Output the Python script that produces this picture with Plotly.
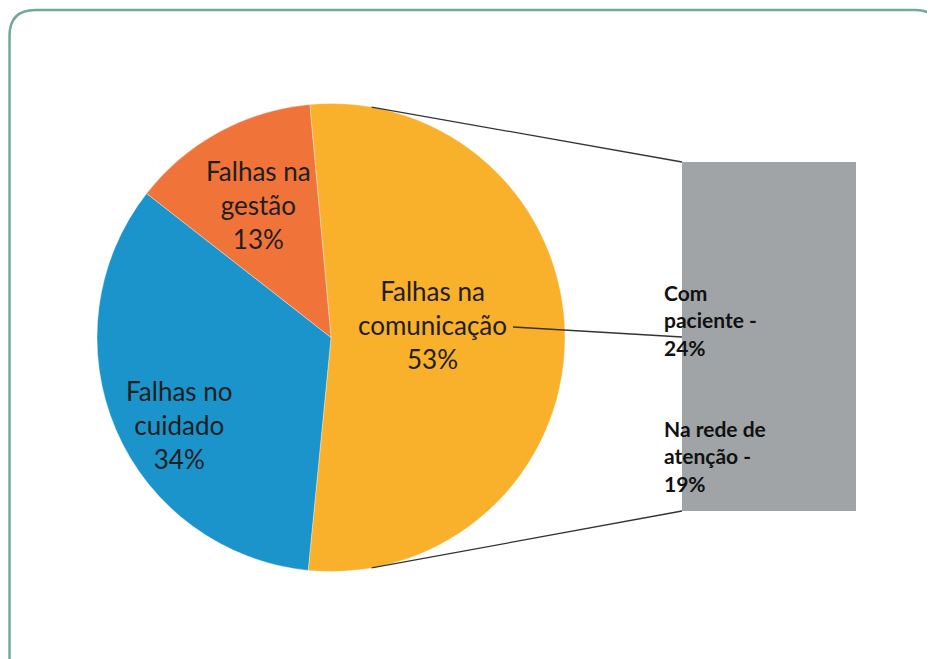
import math
import plotly.graph_objects as go

OFF = 8  # page body margin that the browser adds around the figure
W, H = 935 - OFF, 659 - OFF

# data
pie_labels = ["Falhas na<br>comunicação", "Falhas no<br>cuidado", "Falhas na<br>gestão"]
pie_values = [53, 34, 13]
pie_colors = ["#F9B02A", "#1A94CA", "#F0733A"]

bar_labels = ["Na rede de<br>atenção", "Com<br>paciente"]
bar_values = [19, 24]
bar_color = "#A0A4A6"


def px(x):
    return (x - OFF) / W


def py(y):
    return 1 - (y - OFF) / H


# pie geometry (window pixels)
cx, cy, R = 331, 337.5, 234
rotation = -5.2

fig = go.Figure()
fig.add_trace(go.Pie(
    labels=pie_labels,
    values=pie_values,
    sort=False,
    direction='clockwise',
    rotation=rotation,
    marker=dict(colors=pie_colors, line=dict(color='rgba(255,255,255,0.6)', width=0.6)),
    textinfo='none',
    hoverinfo='label+percent',
    showlegend=False,
    domain=dict(x=[px(cx - R), px(cx + R)], y=[py(cy + R), py(cy - R)]),
))

# bar of the split slice
bx0, bx1, by0, by1 = 682, 856, 162, 511
for lab, val in zip(bar_labels, bar_values):
    fig.add_trace(go.Bar(
        x=[0], y=[val], width=1,
        marker=dict(color=bar_color, line=dict(width=0)),
        name=lab.replace('<br>', ' '),
        showlegend=False,
        xaxis='x', yaxis='y',
    ))

# pie label centres (pixels)
label_pos = [(432, 325), (179, 425), (258, 205)]
annotations = []
for lab, val, (x, y) in zip(pie_labels, pie_values, label_pos):
    annotations.append(dict(
        x=px(x), y=py(y), xref='paper', yref='paper',
        text=f"{lab}<br>{val}%", showarrow=False,
        font=dict(family='Lato', size=26, color='#1e1e1e'),
        align='center', xanchor='center', yanchor='middle',
    ))

# bar labels
bar_text_y = [456, 320]
for lab, val, ty in zip(bar_labels, bar_values, bar_text_y):
    annotations.append(dict(
        x=px(662), y=py(ty), xref='paper', yref='paper',
        text=f"<b>{lab} -<br>{val}%</b>", showarrow=False,
        font=dict(family='Lato', size=21, color='#111111'),
        align='left', xanchor='left', yanchor='middle',
    ))

# connector lines from pie to bar
shapes = []
a = math.radians(10)
top_pt = (cx + R * math.sin(a), cy - R * math.cos(a))
bot_pt = (cx + R * math.sin(a), cy + R * math.cos(a))
for (x0, y0), (x1, y1) in [(top_pt, (bx0, by0)), (bot_pt, (bx0, by1)), ((513, 327), (bx0, 337))]:
    shapes.append(dict(type='line', xref='paper', yref='paper',
                       x0=px(x0), y0=py(y0), x1=px(x1), y1=py(y1),
                       line=dict(color='#333333', width=1.3)))

# rounded frame
r = 26
L, T, Rt, B = 9.5, 10, 941, 680
path = (f"M {px(L)},{py(B)} L {px(L)},{py(T + r)} Q {px(L)},{py(T)} {px(L + r)},{py(T)} "
        f"L {px(Rt - r)},{py(T)} Q {px(Rt)},{py(T)} {px(Rt)},{py(T + r)} L {px(Rt)},{py(B)}")
shapes.append(dict(type='path', xref='paper', yref='paper', path=path,
                   line=dict(color='#6FAA98', width=2.5)))

fig.update_layout(
    width=W, height=H,
    margin=dict(l=0, r=0, t=0, b=0),
    paper_bgcolor='white',
    plot_bgcolor='rgba(0,0,0,0)',
    barmode='stack',
    bargap=0,
    xaxis=dict(domain=[px(bx0), px(bx1)], range=[-0.5, 0.5], visible=False, fixedrange=True),
    yaxis=dict(domain=[py(by1), py(by0)], range=[0, sum(bar_values)], visible=False, fixedrange=True),
    annotations=annotations,
    shapes=shapes,
)

fig.write_html("out.html")
